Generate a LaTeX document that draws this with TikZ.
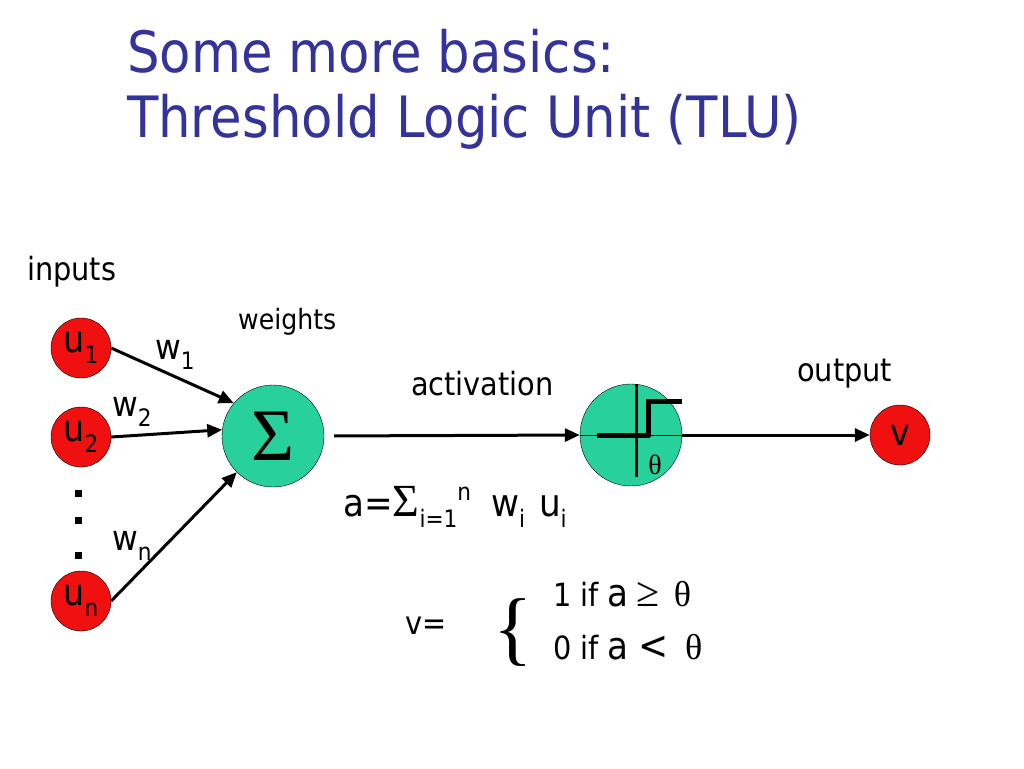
\documentclass[tikz,border=0pt]{standalone}
\usepackage{fontspec}
\IfFontExistsTF{DejaVu Sans Condensed}{\setmainfont{DejaVu Sans Condensed}}{\setmainfont{DejaVu Sans}}
\newfontfamily\symf{Liberation Serif}
\usetikzlibrary{arrows.meta}
\definecolor{titleblue}{RGB}{51,51,153}
\definecolor{procgreen}{RGB}{40,208,156}
\definecolor{unitred}{RGB}{240,16,16}
\newcommand\lowidx[1]{\raisebox{-0.3em}{\fontsize{24}{24}\selectfont #1}}

\begin{document}
\begin{tikzpicture}[x=1pt, y=-1pt,
  unit/.style={draw, circle, fill=unitred, minimum size=60pt, inner sep=0pt, font=\fontsize{37}{37}\selectfont},
  proc/.style={draw, circle, fill=procgreen, minimum size=102pt, inner sep=0pt},
  arrow/.style={-{Triangle[length=15pt, width=13pt]}, line width=3pt},
  lab/.style={font=\fontsize{32}{32}\selectfont, inner sep=0pt, anchor=base west},
  title/.style={font=\fontsize{57}{57}\selectfont, text=titleblue, inner sep=0pt, anchor=base west}
]
\useasboundingbox (0,0) rectangle (1024,768);

\node[title] (title1) at (127,72) {Some more basics:};
\node[title] (title2) at (127,137) {Threshold Logic Unit (TLU)};

\node[unit] (u1) at (81,348) {u\lowidx{1}};
\node[unit] (u2) at (81,437) {u\lowidx{2}};
\node[unit] (un) at (81,601) {u\lowidx{n}};
\foreach \y in {490,517,552}
  \fill (75,\y) rectangle ++(7,7);

\node[proc] (sig) at (273,436) {\raisebox{-4pt}{\symf\fontsize{74}{74}\selectfont Σ}};
\node[proc] (tlu) at (631,435) {};
\node[unit] (v) at (900,435) {v};

% step function inside the TLU
\draw[line width=1pt] (tlu.west) -- (tlu.east);
\draw[line width=3pt] ([shift={(5,-51)}]tlu.center) -- ([shift={(5,42)}]tlu.center);
\draw[line width=5pt] ([shift={(-34,0)}]tlu.center) -- ([shift={(19,0)}]tlu.center);
\draw[line width=5pt] ([shift={(17,2)}]tlu.center) -- ([shift={(17,-34)}]tlu.center) -- ([shift={(51,-34)}]tlu.center);
\node[font=\symf\fontsize{28}{28}\selectfont, inner sep=0pt] (theta) at ([shift={(24,30)}]tlu.center) {θ};

\node[lab] (inputs) at (27,280) {inputs};
\node[lab, font=\fontsize{28}{28}\selectfont] (weights) at (238,329) {weights};
\node[lab] (act) at (411,395) {activation};
\node[lab] (out) at (797,381) {output};
\node[lab, font=\fontsize{35}{35}\selectfont] (w1) at (155,359) {w\lowidx{1}};
\node[lab, font=\fontsize{35}{35}\selectfont] (w2) at (112,416) {w\lowidx{2}};
\node[lab, font=\fontsize{35}{35}\selectfont] (wn) at (112,550) {w\lowidx{n}};

\draw[arrow] (u1.east) -- (sig.140);
\draw[arrow] (u2.east) -- (sig.173);
\draw[arrow] (un.east) -- (sig.225);
\draw[arrow, shorten <=10pt] (sig.east) -- (tlu.west);
\draw[arrow] (tlu.east) -- (v.west);

\node[lab, font=\fontsize{38}{38}\selectfont] (sum) at (343,516)
  {a={\symf\fontsize{46}{46}\selectfont Σ}\lowidx{i=1}\raisebox{0.4em}{\fontsize{24}{24}\selectfont n}\hspace{20pt}w\lowidx{i}\hspace{14pt}u\lowidx{i}};
\node[lab] (veq) at (405,634) {v=};
\node[font=\symf\fontsize{82}{82}\selectfont, inner sep=0pt] (brace) at (513,633) {\{};
\node[lab] (case1) at (553,606)
  {1 if {\fontsize{38}{38}\selectfont a}\hspace{8pt}{\symf\fontsize{42}{42}\selectfont ≥}\hspace{14pt}{\symf\fontsize{36}{36}\selectfont θ}};
\node[lab] (case0) at (553,659)
  {0 if {\fontsize{38}{38}\selectfont a}\hspace{10pt}{\fontsize{40}{40}\selectfont <}\hspace{16pt}{\symf\fontsize{36}{36}\selectfont θ}};
\end{tikzpicture}
\end{document}
